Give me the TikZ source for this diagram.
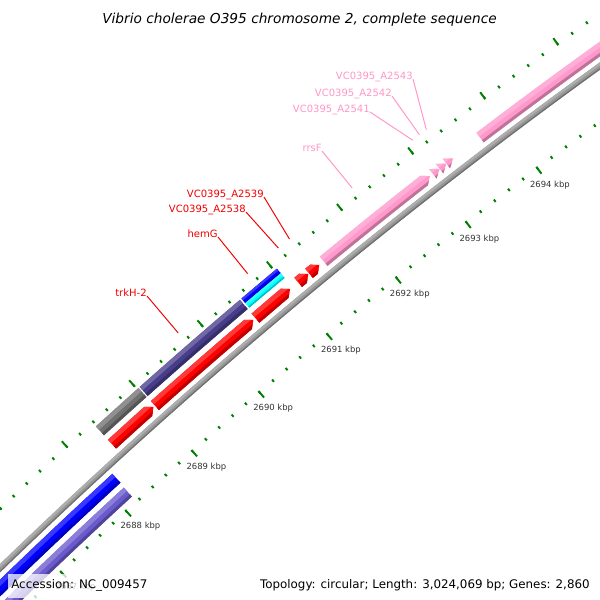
\documentclass[tikz,border=0pt]{standalone}
\usepackage{fontspec}
\setmainfont{DejaVu Sans}

\definecolor{featred}{RGB}{255,0,0}
\definecolor{featpink}{RGB}{255,153,204}
\definecolor{featgray}{RGB}{112,112,112}
\definecolor{featslate}{RGB}{72,61,139}
\definecolor{featblue}{RGB}{0,0,255}
\definecolor{featcyan}{RGB}{0,255,255}
\definecolor{featlav}{RGB}{106,90,205}
\definecolor{backbone}{RGB}{150,150,150}
\definecolor{rulergreen}{RGB}{0,128,0}
\definecolor{labelred}{RGB}{240,0,0}
\definecolor{labelpink}{RGB}{255,150,200}

% band of a circle between two angles and two radii
\newcommand{\sectorpath}[4]{(#1:#3) arc[start angle=#1,end angle=#2,radius=#3] -- (#2:#4) arc[start angle=#2,end angle=#1,radius=#4] -- cycle}

% light top, dark bottom (used inside a clip)
\newcommand{\gshade}[5]{%
  \pgfmathsetmacro\bA{#2+0.3}\pgfmathsetmacro\bB{#3-0.3}%
  \pgfmathsetmacro\rlo{#4+0.25*(#5-#4)}\pgfmathsetmacro\rhi{#5-0.38*(#5-#4)}%
  \pgfmathsetmacro\rin{#4-1}\pgfmathsetmacro\rout{#5+1}%
  \fill[#1] \sectorpath{\bA}{\bB}{\rin}{\rout};
  \fill[#1!78!white] \sectorpath{\bA}{\bB}{\rhi}{\rout};
  \fill[#1!75!black] \sectorpath{\bA}{\bB}{\rin}{\rlo};}

% plain bar
\newcommand{\gbar}[5]{%
  \begin{scope}
    \clip \sectorpath{#2}{#3}{#4}{#5};
    \gshade{#1}{#2}{#3}{#4}{#5}
  \end{scope}}

% bar with head at the clockwise end
\newcommand{\garrow}[5]{%
  \pgfmathsetmacro\gh{#3+0.074}\pgfmathsetmacro\gm{(#4+#5)/2}%
  \begin{scope}
    \clip (#2:#4) arc[start angle=#2,end angle=\gh,radius=#4] -- (#3:\gm) -- (\gh:#5) arc[start angle=\gh,end angle=#2,radius=#5] -- cycle;
    \gshade{#1}{#2}{#3}{#4}{#5}
  \end{scope}}

% head only
\newcommand{\ghead}[5]{%
  \pgfmathsetmacro\gm{(#4+#5)/2}%
  \begin{scope}
    \clip (#2:#4) -- (#3:\gm) -- (#2:#5) -- cycle;
    \gshade{#1}{#2}{#3}{#4}{#5}
  \end{scope}}

\tikzset{
  minordot/.style={draw=rulergreen,line width=1.1pt},
  majordash/.style={draw=rulergreen,line width=1.1pt},
  kbplabel/.style={font=\fontsize{4.8}{5}\selectfont,text=black!80,inner sep=0pt},
  genelabel/.style={font=\fontsize{5.7}{6}\selectfont,inner sep=0pt,anchor=base east},
  leader/.style={line width=0.55pt},
  legend/.style={font=\fontsize{6.75}{8}\selectfont,text=black},
}

\begin{document}
\begin{tikzpicture}[x=0.02cm,y=0.02cm]
  \path[use as bounding box,fill=white] (0,0) rectangle (600,600);
  \clip (0,0) rectangle (600,600);

  \begin{scope}[shift={(3757,-3847)}]
    % outer forward slot
    \gbar{featgray}{132.32}{131.715}{5426}{5438}
    \gbar{featslate}{131.70}{130.30}{5426}{5438}
    \gbar{featblue}{130.28}{129.79}{5432}{5438}
    \gbar{featcyan}{130.28}{129.79}{5426}{5432}
    % inner forward slot
    \garrow{featred}{132.32}{131.73}{5408}{5420}
    \garrow{featred}{131.71}{130.33}{5408}{5420}
    \garrow{featred}{130.30}{129.82}{5408}{5420}
    \garrow{featred}{129.71}{129.57}{5408}{5420}
    \garrow{featred}{129.56}{129.42}{5408}{5420}
    \garrow{featpink}{129.36}{127.92}{5408}{5420}
    \ghead{featpink}{127.88}{127.79}{5408}{5420}
    \ghead{featpink}{127.79}{127.70}{5408}{5420}
    \ghead{featpink}{127.70}{127.61}{5408}{5420}
    \gbar{featpink}{127.25}{124.5}{5408}{5420}
    % backbone
    \gbar{backbone}{137}{124}{5397}{5403}
    % reverse slots
    \gbar{featblue}{137}{132.53}{5380}{5392}
    \gbar{featlav}{137}{132.54}{5362}{5374}

    % rulers
    \foreach \k in {0,...,50}{
      \draw[minordot] ({134.6-0.191*\k}:5441.5) -- ({134.6-0.191*\k}:5444.5);
      \draw[minordot] ({134.6-0.191*\k}:5353.5) -- ({134.6-0.191*\k}:5356.5);
    }
    \foreach \m in {0,...,10}{
      \draw[majordash] ({134.6-0.955*\m}:5441.5) -- ({134.6-0.955*\m}:5450);
      \draw[majordash] ({134.6-0.955*\m}:5348) -- ({134.6-0.955*\m}:5356.5);
    }
    \foreach \kb in {2687,...,2694}
      \node[kbplabel] (kb\kb) at ({126.96+(2694-\kb)*0.955}:5334) {\kb\ kbp};

    % label anchors on the features
    \coordinate (e-trkH) at (131.02:5453);
    \coordinate (e-hemG) at (130.06:5453);
    \coordinate (e-2538) at (129.64:5453);
    \coordinate (e-2539) at (129.49:5453);
    \coordinate (e-rrsF) at (128.64:5453);
    \coordinate (e-2541) at (127.83:5453);
    \coordinate (e-2542) at (127.74:5453);
    \coordinate (e-2543) at (127.65:5453);
  \end{scope}

  \node[genelabel,text=labelred] (lbl-trkH) at (147,304) {trkH-2};
  \node[genelabel,text=labelred] (lbl-hemG) at (218,363) {hemG};
  \node[genelabel,text=labelred] (lbl-2538) at (246,388) {VC0395\_A2538};
  \node[genelabel,text=labelred] (lbl-2539) at (264,403) {VC0395\_A2539};
  \node[genelabel,text=labelpink] (lbl-rrsF) at (322,449) {rrsF};
  \node[genelabel,text=labelpink] (lbl-2541) at (370,488) {VC0395\_A2541};
  \node[genelabel,text=labelpink] (lbl-2542) at (392,504) {VC0395\_A2542};
  \node[genelabel,text=labelpink] (lbl-2543) at (413,521) {VC0395\_A2543};

  \draw[leader,labelred] (lbl-trkH.base east) -- (e-trkH);
  \draw[leader,labelred] (lbl-hemG.base east) -- (e-hemG);
  \draw[leader,labelred] (lbl-2538.base east) -- (e-2538);
  \draw[leader,labelred] (lbl-2539.base east) -- (e-2539);
  \draw[leader,labelpink] (lbl-rrsF.base east) -- (e-rrsF);
  \draw[leader,labelpink] (lbl-2541.base east) -- (e-2541);
  \draw[leader,labelpink] (lbl-2542.base east) -- (e-2542);
  \draw[leader,labelpink] (lbl-2543.base east) -- (e-2543);

  \node[font=\fontsize{7.8}{9}\selectfont\itshape,anchor=base,inner sep=0pt] (title) at (299.5,576.5) {Vibrio cholerae O395 chromosome 2, complete sequence};

  \node[legend,anchor=base west,fill=white,fill opacity=0.75,text opacity=1,inner xsep=1.7pt,inner ysep=3.3pt] (accession) at (8,11) {Accession: NC\_009457};
  \node[legend,anchor=base east,inner sep=0pt] (topology) at (590,11) {Topology: circular; Length: 3,024,069 bp; Genes: 2,860};
\end{tikzpicture}
\end{document}
